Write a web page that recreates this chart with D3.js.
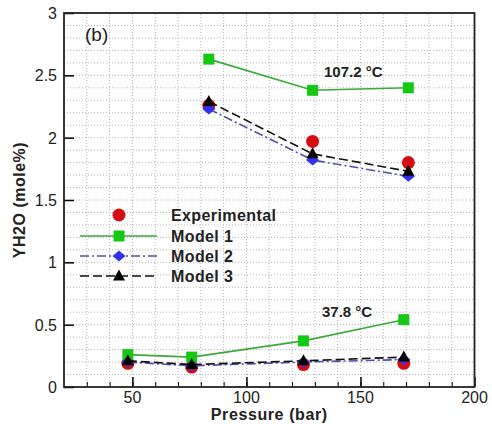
<!DOCTYPE html>
<html>
<head>
<meta charset="utf-8">
<script src="https://cdn.jsdelivr.net/npm/d3@7"></script>
<style>
  body { margin: 0; background: #fff; }
  text { font-family: Arial, "Liberation Sans", sans-serif; }
</style>
</head>
<body>
<div id="chart"></div>
<script>
// pressures (bar) for the two temperature groups
const pressHot = [83.5, 129, 171];     // 107.2 °C
const pressCold = [48, 76, 125, 169];  // 37.8 °C

// YH2O (mole%) values
const expHot = [2.26, 1.97, 1.80];
const m1Hot = [2.63, 2.38, 2.40];
const m2Hot = [2.23, 1.82, 1.69];
const m3Hot = [2.29, 1.87, 1.73];

const expCold = [0.19, 0.16, 0.18, 0.19];
const m1Cold = [0.26, 0.24, 0.37, 0.54];
const m2Cold = [0.20, 0.17, 0.20, 0.22];
const m3Cold = [0.21, 0.18, 0.21, 0.24];

const xTicks = [50, 100, 150, 200];
const yTicks = [0, 0.5, 1, 1.5, 2, 2.5, 3];

const legendLabels = ["Experimental", "Model 1", "Model 2", "Model 3"];

const W = 492, H = 429;
const margin = { top: 13, right: 17.5, bottom: 42, left: 64 };

const svg = d3.select("#chart").append("svg")
    .attr("width", W)
    .attr("height", H);

const x = d3.scaleLinear().domain([20, 200]).range([margin.left, W - margin.right]);
const y = d3.scaleLinear().domain([0, 3]).range([H - margin.bottom, margin.top]);

// dotted grid every 10 bar and every 0.1
const grid = svg.append("g");
grid.selectAll("line.gx")
    .data(d3.range(30, 200, 10))
    .join("line")
    .attr("x1", d => x(d)).attr("x2", d => x(d))
    .attr("y1", y(0)).attr("y2", y(3))
    .attr("stroke", "#b5b5b5")
    .attr("stroke-width", 1)
    .attr("stroke-dasharray", "1,2");
grid.selectAll("line.gy")
    .data(d3.range(1, 30).map(i => i / 10))
    .join("line")
    .attr("x1", x(20)).attr("x2", x(200))
    .attr("y1", d => y(d)).attr("y2", d => y(d))
    .attr("stroke", "#b5b5b5")
    .attr("stroke-width", 1)
    .attr("stroke-dasharray", "1,2");

// axes with inward ticks
const xMinor = svg.append("g")
    .attr("transform", `translate(0,${y(0)})`)
    .call(d3.axisTop(x).tickValues(d3.range(30, 200, 10)).tickSize(5).tickFormat(""));
xMinor.select(".domain").remove();

const xAxis = svg.append("g")
    .attr("transform", `translate(0,${y(0)})`)
    .call(d3.axisTop(x).tickValues(xTicks).tickSize(10).tickFormat(""));
xAxis.select(".domain").remove();
xAxis.selectAll("line").attr("stroke-width", 1.5);

svg.selectAll("text.xlab")
    .data(xTicks)
    .join("text")
    .attr("class", "xlab")
    .attr("x", d => x(d))
    .attr("y", 403)
    .attr("text-anchor", "middle")
    .attr("font-size", 16)
    .attr("fill", "#222")
    .text(d => d);

const yAxis = svg.append("g")
    .attr("transform", `translate(${x(20)},0)`)
    .call(d3.axisRight(y).tickValues(yTicks).tickSize(10).tickFormat(""));
yAxis.select(".domain").remove();
yAxis.selectAll("line").attr("stroke-width", 1.5);

svg.selectAll("text.ylab")
    .data(yTicks)
    .join("text")
    .attr("class", "ylab")
    .attr("x", 57)
    .attr("y", d => y(d) + 6)
    .attr("text-anchor", "end")
    .attr("font-size", 16)
    .attr("fill", "#222")
    .text(d => d);

// frame
svg.append("rect")
    .attr("x", x(20)).attr("y", y(3))
    .attr("width", x(200) - x(20))
    .attr("height", y(0) - y(3))
    .attr("fill", "none")
    .attr("stroke", "#222")
    .attr("stroke-width", 1.8);

// axis titles
svg.append("text")
    .attr("x", (x(20) + x(200)) / 2)
    .attr("y", 420)
    .attr("text-anchor", "middle")
    .attr("font-size", 16)
    .attr("font-weight", "bold")
    .style("letter-spacing", "0.6px")
    .attr("fill", "#222")
    .text("Pressure (bar)");

svg.append("text")
    .attr("transform", `translate(25,${(y(0) + y(3)) / 2}) rotate(-90)`)
    .attr("text-anchor", "middle")
    .attr("font-size", 16)
    .attr("font-weight", "bold")
    .style("letter-spacing", "0.5px")
    .attr("fill", "#222")
    .text("YH2O (mole%)");

// series styles
const styles = {
    exp: { color: "#d40f14" },
    m1: { color: "#14c814", line: "#3aaa3a", dash: null },
    m2: { color: "#3030ee", line: "#5050a8", dash: "9,3,2,3" },
    m3: { color: "#000", line: "#111", dash: "9,4" }
};

const line = d3.line().x(d => x(d[0])).y(d => y(d[1]));

function drawLine(press, vals, st) {
    svg.append("path")
        .datum(d3.zip(press, vals))
        .attr("d", line)
        .attr("fill", "none")
        .attr("stroke", st.line)
        .attr("stroke-width", 1.6)
        .attr("stroke-dasharray", st.dash);
}

function circles(g, pts) {
    g.selectAll("circle").data(pts).join("circle")
        .attr("cx", d => d[0]).attr("cy", d => d[1])
        .attr("r", 6.5)
        .attr("fill", styles.exp.color);
}
function squares(g, pts) {
    g.selectAll("rect").data(pts).join("rect")
        .attr("x", d => d[0] - 5.5).attr("y", d => d[1] - 5.5)
        .attr("width", 11).attr("height", 11)
        .attr("fill", styles.m1.color);
}
function diamonds(g, pts) {
    g.selectAll("path").data(pts).join("path")
        .attr("d", d => `M${d[0] - 6.5},${d[1]}L${d[0]},${d[1] - 5.5}L${d[0] + 6.5},${d[1]}L${d[0]},${d[1] + 5.5}Z`)
        .attr("fill", styles.m2.color);
}
function triangles(g, pts) {
    g.selectAll("path").data(pts).join("path")
        .attr("d", d => `M${d[0] - 6},${d[1] + 4.5}L${d[0]},${d[1] - 6.5}L${d[0] + 6},${d[1] + 4.5}Z`)
        .attr("fill", styles.m3.color);
}

const toPts = (press, vals) => press.map((p, i) => [x(p), y(vals[i])]);

// experimental first (behind), then models
circles(svg.append("g"), toPts(pressHot, expHot).concat(toPts(pressCold, expCold)));

drawLine(pressHot, m1Hot, styles.m1);
drawLine(pressCold, m1Cold, styles.m1);
squares(svg.append("g"), toPts(pressHot, m1Hot).concat(toPts(pressCold, m1Cold)));

drawLine(pressHot, m2Hot, styles.m2);
drawLine(pressCold, m2Cold, styles.m2);
diamonds(svg.append("g"), toPts(pressHot, m2Hot).concat(toPts(pressCold, m2Cold)));

drawLine(pressHot, m3Hot, styles.m3);
drawLine(pressCold, m3Cold, styles.m3);
triangles(svg.append("g"), toPts(pressHot, m3Hot).concat(toPts(pressCold, m3Cold)));

// legend
const legend = svg.append("g");
const legY = [215, 236, 256, 276];
const legKeys = ["exp", "m1", "m2", "m3"];
legKeys.forEach((k, i) => {
    const st = styles[k];
    if (st.line) {
        legend.append("line")
            .attr("x1", 80).attr("x2", 157)
            .attr("y1", legY[i]).attr("y2", legY[i])
            .attr("stroke", st.line)
            .attr("stroke-width", 1.6)
            .attr("stroke-dasharray", st.dash);
    }
    legend.append("text")
        .attr("x", 171)
        .attr("y", legY[i] + 6)
        .attr("font-size", 16)
        .attr("font-weight", "bold")
        .style("letter-spacing", "0.4px")
        .attr("fill", "#222")
        .text(legendLabels[i]);
});
circles(legend.append("g"), [[119, legY[0]]]);
squares(legend.append("g"), [[119, legY[1]]]);
diamonds(legend.append("g"), [[119, legY[2]]]);
triangles(legend.append("g"), [[119, legY[3]]]);

// annotations
svg.append("text")
    .attr("x", 324).attr("y", 77)
    .attr("font-size", 15).attr("font-weight", "bold")
    .attr("fill", "#222")
    .text("107.2 °C");
svg.append("text")
    .attr("x", 322).attr("y", 317)
    .attr("font-size", 15).attr("font-weight", "bold")
    .attr("fill", "#222")
    .text("37.8 °C");
svg.append("text")
    .attr("x", 85).attr("y", 41)
    .attr("font-size", 19)
    .attr("fill", "#222")
    .text("(b)");
</script>
</body>
</html>
